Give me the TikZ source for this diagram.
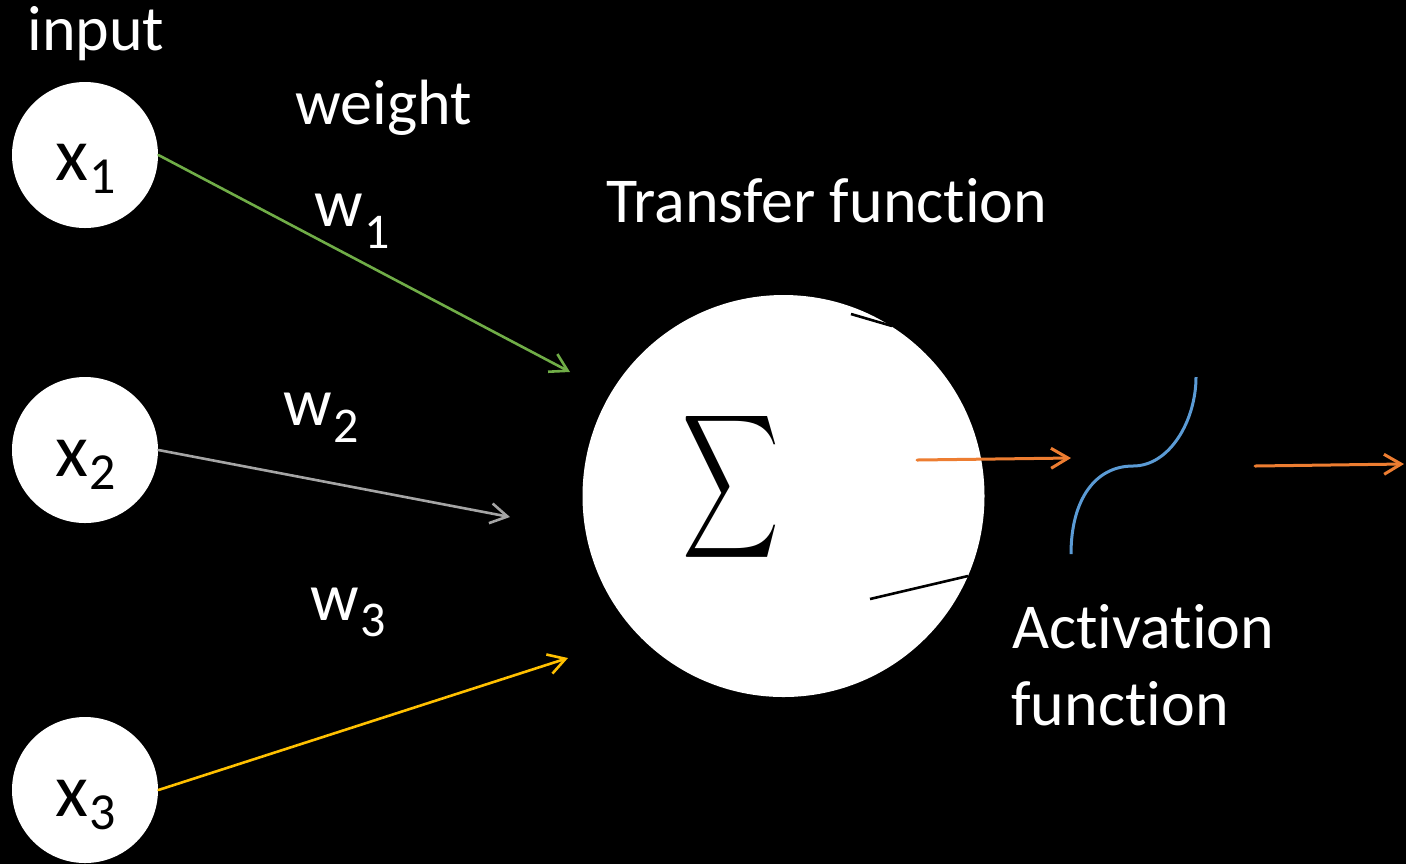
\documentclass[tikz,border=0pt]{standalone}
\usepackage{fontspec}
\setmainfont{Carlito}[Ligatures=NoCommon]
\usepackage{graphicx}
\usetikzlibrary{arrows.meta}
\definecolor{cgreen}{HTML}{70AD47}
\definecolor{cgray}{HTML}{A5A5A5}
\definecolor{cgold}{HTML}{FFC000}
\definecolor{corange}{HTML}{ED7D31}
\definecolor{cblue}{HTML}{5B9BD5}
\newcommand{\xlab}[2]{\fontsize{38}{40}\selectfont x\kern0.5pt\raisebox{-#2}{\fontsize{26}{28}\selectfont #1}}
\newcommand{\wlab}[2]{\fontsize{34}{36}\selectfont w\kern0.5pt\raisebox{-#2}{\fontsize{25}{27}\selectfont #1}}
\begin{document}
\begin{tikzpicture}[x=0.5pt,y=-0.5pt,
  inputnode/.style={circle,fill=white,minimum size=73pt,inner sep=0pt},
  sumnode/.style={circle,fill=white,minimum size=201pt,inner sep=0pt},
  lbl/.style={text=white,anchor=base west,inner sep=0pt,font=\fontsize{32}{36}\selectfont},
  sublbl/.style={text=black,anchor=base west,inner sep=0pt},
  wlbl/.style={text=white,anchor=base west,inner sep=0pt},
  conn/.style={line width=1.3pt,line cap=round,-{Straight Barb[length=8.5pt,width=10pt,line width=1.3pt]}},
  outconn/.style={line width=1.5pt,line cap=round,-{Straight Barb[length=8.5pt,width=10pt,line width=1.5pt]}},
  edgeline/.style={black,line width=1.3pt},
]
\fill[black] (0,0) rectangle (1406,864);
\useasboundingbox (0,0) rectangle (1406,864);

% input circles
\node[inputnode] (x1) at (85,155) {};
\node[inputnode] (x2) at (85,450) {};
\node[inputnode] (x3) at (85,790) {};
\node[sublbl] (x1t) at (55,180) {\xlab{1}{6.5pt}};
\node[sublbl] (x2t) at (55,476) {\xlab{2}{6.5pt}};
\node[sublbl] (x3t) at (55,816) {\xlab{3}{6.5pt}};

% main circle
\node[sumnode] (sum) at (783.5,496) {};
\node[inner sep=0pt] (sigma) at (731,487) {\resizebox*{48.5pt}{80.5pt}{$\displaystyle\sum$}};
\coordinate (k1a) at (851,314);
\coordinate (k1b) at (892,326);
\coordinate (k2a) at (870,599);
\coordinate (k2b) at (968,576);
\draw[edgeline] (k1a) -- (k1b);
\draw[edgeline] (k2a) -- (k2b);

% texts
\node[lbl] (tin) at (27,50) {input};
\node[lbl] (tw) at (295,124) {weight};
\node[lbl] (ttf) at (606,222) {Transfer function};
\node[lbl] (tact) at (1012,648) {Activation};
\node[lbl] (tfn) at (1011,725) {function};
\node[wlbl] (w1) at (314,226) {\wlab{1}{11pt}};
\node[wlbl] (w2) at (283,425) {\wlab{2}{8.5pt}};
\node[wlbl] (w3) at (310,620) {\wlab{3}{8pt}};

% weighted connectors
\coordinate (g1) at (570,372);
\coordinate (g2) at (510,517);
\coordinate (g3) at (568,658);
\draw[conn,cgreen] (x1.east) -- (g1);
\draw[conn,cgray] (x2.east) -- (g2);
\draw[conn,cgold] (x3.east) -- (g3);

% output arrows
\coordinate (o1s) at (917,460);
\coordinate (o1e) at (1071,458);
\coordinate (o2s) at (1255,466);
\coordinate (o2e) at (1404,464);
\draw[outconn,corange] (o1s) -- (o1e);
\draw[outconn,corange] (o2s) -- (o2e);

% activation curve
\coordinate (b0) at (1071,554);
\coordinate (b1) at (1133,466);
\coordinate (b2) at (1196,377);
\draw[cblue,line width=1.5pt] (b0) .. controls (1071,500) and (1095,466) .. (b1)
  .. controls (1170,466) and (1196,420) .. (b2);
\end{tikzpicture}
\end{document}
